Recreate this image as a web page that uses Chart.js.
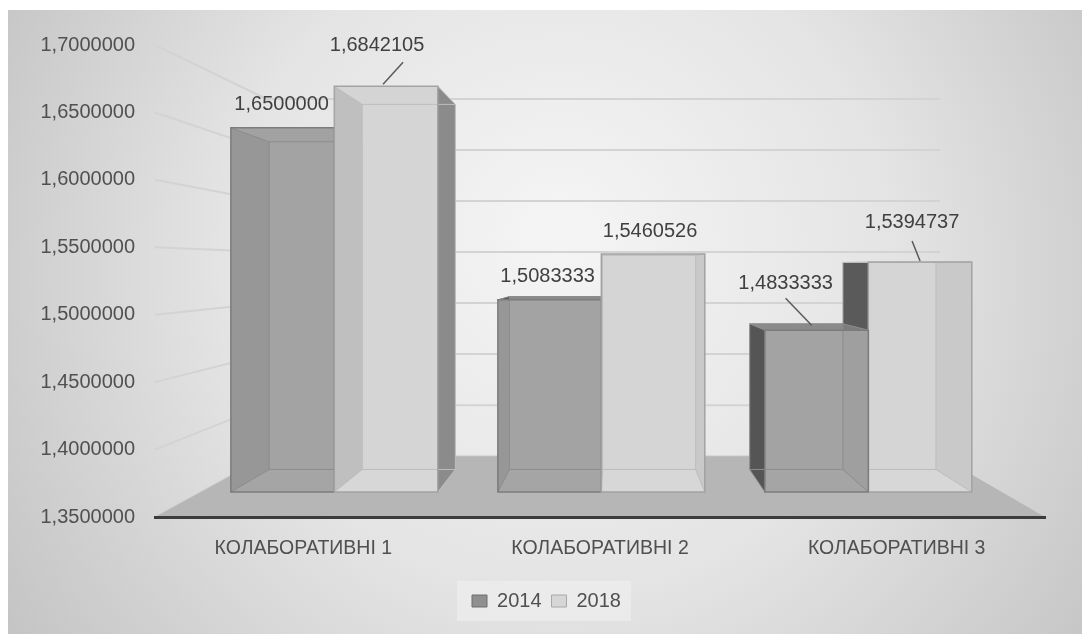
<!DOCTYPE html>
<html lang="uk">
<head>
<meta charset="utf-8">
<title>Колаборативні 2014 / 2018</title>
<script src="https://cdn.jsdelivr.net/npm/chart.js@4.4.1/dist/chart.umd.min.js"></script>
<style>
    html, body { margin: 0; padding: 0; background: #ffffff; }
    #chart { display: block; }
</style>
</head>
<body>
<canvas id="chart" width="1082" height="634"></canvas>
<script>
// chart values
const categories = ['КОЛАБОРАТИВНІ 1', 'КОЛАБОРАТИВНІ 2', 'КОЛАБОРАТИВНІ 3'];
const years = ['2014', '2018'];
const values2014 = [1.6500000, 1.5083333, 1.4833333];
const values2018 = [1.6842105, 1.5460526, 1.5394737];
const yMin = 1.35;
const yMax = 1.70;
const yStep = 0.05;

// perspective: depth factors toward the vanishing point
const FRONT = 0.9;   // front face of a column
const BACK = 0.81;   // back face of a column
const WALL = 0.757;  // back wall and far edge of the floor

// data label placement, relative to the top centre of each front face
const labelShift = [
    [[-1, -23], [-2, -23], [-31, -47]],
    [[-9, -41], [-3, -23], [-8, -40]]
];
const leaders = [
    [null, null, [-5, -5, -31, -32]],
    [[-3, -2, 17, -24], null, [0, -1, -8, -21]]
];

// shades for each series
const looks = [
    { front: '#a7a7a7', back: '#8f8f8f', left: '#555555', right: '#7c7c7c', top: '#8a8a8a', bottom: '#9a9a9a', edge: '#7c7c7c', inner: '#8c8c8c' },
    { front: '#d8d8d8', back: '#c9c9c9', left: '#5a5a5a', right: '#8b8b8b', top: '#c2c2c2', bottom: '#cfcfcf', edge: '#a3a3a3', inner: '#bdbdbd' }
];

const fmt = v => v.toFixed(7).replace('.', ',');

function vanish(area) {
    return { x: area.left + area.width * 0.515, y: area.top + area.height * 0.47 };
}

function project(vp, x, y, s) {
    return [vp.x + (x - vp.x) * s, vp.y + (y - vp.y) * s];
}

function poly(ctx, pts, fill) {
    ctx.beginPath();
    ctx.moveTo(pts[0][0], pts[0][1]);
    for (let i = 1; i < pts.length; i++) ctx.lineTo(pts[i][0], pts[i][1]);
    ctx.closePath();
    ctx.fillStyle = fill;
    ctx.fill();
}

// background panel, walls with gridlines and the floor
const scenery = {
    id: 'scenery',
    afterLayout(chart) {
        // legend sits a little right of the canvas centre
        if (chart.legend) {
            chart.legend.left += 20;
            chart.legend.right += 20;
        }
    },
    beforeDraw(chart) {
        const ctx = chart.ctx;
        const area = chart.chartArea;
        const vp = vanish(area);
        ctx.save();
        ctx.fillStyle = '#ffffff';
        ctx.fillRect(0, 0, chart.width, chart.height);
        const g = ctx.createRadialGradient(560, 230, 20, 560, 300, 720);
        g.addColorStop(0, '#f4f4f4');
        g.addColorStop(0.45, '#e4e4e4');
        g.addColorStop(1, '#bdbdbd');
        ctx.fillStyle = g;
        ctx.fillRect(8, 10, chart.width - 8, chart.height - 10);

        // gridlines: along the left wall, then across the back wall
        const yScale = chart.scales.y;
        const wallRight = project(vp, area.right, area.top, WALL)[0];
        ctx.strokeStyle = '#d3d3d3';
        ctx.lineWidth = 2;
        yScale.ticks.forEach(t => {
            const py = yScale.getPixelForValue(t.value);
            const w = project(vp, area.left, py, WALL);
            ctx.beginPath();
            ctx.moveTo(area.left, py);
            ctx.lineTo(w[0], w[1]);
            ctx.lineTo(wallRight, w[1]);
            ctx.stroke();
        });

        // floor
        const fl = project(vp, area.left, area.bottom, WALL);
        const fr = project(vp, area.right, area.bottom, WALL);
        poly(ctx, [[area.left, area.bottom], fl, fr, [area.right, area.bottom]], '#b6b6b6');

        // legend plate
        const lg = chart.legend;
        if (lg && lg.legendHitBoxes && lg.legendHitBoxes.length) {
            const hb = lg.legendHitBoxes;
            const x0 = Math.min(...hb.map(b => b.left)) - 15;
            const x1 = Math.max(...hb.map(b => b.left + b.width)) + 10;
            const y0 = hb[0].top - 10;
            ctx.fillStyle = 'rgba(240,240,240,0.6)';
            ctx.fillRect(x0, y0, x1 - x0, hb[0].height + 20);
        }
        ctx.restore();
    }
};

// columns drawn as see-through boxes, plus value labels
const columns = {
    id: 'columns',
    beforeDatasetsDraw(chart) {
        const ctx = chart.ctx;
        const area = chart.chartArea;
        const vp = vanish(area);
        const bars = [];
        chart.data.datasets.forEach((ds, di) => {
            chart.getDatasetMeta(di).data.forEach((el, i) => {
                const p = el.getProps(['x', 'y', 'base', 'width'], true);
                bars.push({ di, i, p, value: ds.data[i] });
            });
        });
        bars.sort((a, b) => Math.abs(b.p.x - vp.x) - Math.abs(a.p.x - vp.x));

        ctx.save();
        bars.forEach(({ di, p }) => {
            const lk = looks[di];
            const x1 = p.x - p.width / 2, x2 = p.x + p.width / 2;
            const bottom = Math.min(p.base, area.bottom);
            const corners = [[x1, p.y], [x2, p.y], [x2, bottom], [x1, bottom]];
            const f = corners.map(c => project(vp, c[0], c[1], FRONT));
            const b = corners.map(c => project(vp, c[0], c[1], BACK));
            poly(ctx, b, lk.back);
            poly(ctx, [f[3], f[2], b[2], b[3]], lk.bottom);
            poly(ctx, [f[0], f[1], b[1], b[0]], lk.top);
            poly(ctx, [f[0], b[0], b[3], f[3]], lk.left);
            poly(ctx, [f[1], b[1], b[2], f[2]], lk.right);
            ctx.globalAlpha = 0.8;
            poly(ctx, f, lk.front);
            ctx.globalAlpha = 1;

            // hidden edges, faint
            ctx.strokeStyle = lk.inner;
            ctx.lineWidth = 1;
            ctx.beginPath();
            ctx.moveTo(b[0][0], b[0][1]);
            b.forEach(c => ctx.lineTo(c[0], c[1]));
            ctx.closePath();
            for (let k = 0; k < 4; k++) {
                ctx.moveTo(f[k][0], f[k][1]);
                ctx.lineTo(b[k][0], b[k][1]);
            }
            ctx.stroke();

            // outer edges
            ctx.strokeStyle = lk.edge;
            ctx.lineWidth = 1.5;
            ctx.beginPath();
            ctx.moveTo(f[0][0], f[0][1]);
            f.forEach(c => ctx.lineTo(c[0], c[1]));
            ctx.closePath();
            ctx.stroke();
        });

        // value labels
        ctx.font = '20px "Liberation Sans", Arial, sans-serif';
        ctx.fillStyle = '#404040';
        ctx.textAlign = 'center';
        ctx.textBaseline = 'middle';
        ctx.strokeStyle = '#5a5a5a';
        ctx.lineWidth = 1.5;
        bars.forEach(({ di, i, p, value }) => {
            const t = project(vp, p.x, p.y, FRONT);
            const [dx, dy] = labelShift[di][i];
            ctx.fillText(fmt(value), t[0] + dx, t[1] + dy);
            const ld = leaders[di][i];
            if (ld) {
                ctx.beginPath();
                ctx.moveTo(t[0] + ld[0], t[1] + ld[1]);
                ctx.lineTo(t[0] + ld[2], t[1] + ld[3]);
                ctx.stroke();
            }
        });
        ctx.restore();
        return false;
    }
};

new Chart(document.getElementById('chart'), {
    type: 'bar',
    data: {
        labels: categories,
        datasets: [
            { label: years[0], data: values2014, base: yMin, backgroundColor: '#8f8f8f', borderColor: '#6f6f6f', borderWidth: 1 },
            { label: years[1], data: values2018, base: yMin, backgroundColor: '#d6d6d6', borderColor: '#a8a8a8', borderWidth: 1 }
        ]
    },
    options: {
        responsive: false,
        animation: false,
        layout: { padding: { left: 8, right: 37, top: 45, bottom: 13 } },
        datasets: { bar: { categoryPercentage: 0.775, barPercentage: 1 } },
        scales: {
            x: {
                grid: { display: false, drawTicks: false },
                border: { display: true, color: '#3c3c3c', width: 3 },
                ticks: {
                    color: '#505050',
                    padding: 20,
                    font: { family: '"Liberation Sans", Arial, sans-serif', size: 19.5 }
                },
                afterFit(scale) { scale.height = 64; }
            },
            y: {
                min: yMin,
                max: yMax,
                grid: { display: false, drawTicks: false },
                border: { display: false },
                ticks: {
                    stepSize: yStep,
                    color: '#505050',
                    padding: 20,
                    font: { family: '"Liberation Sans", Arial, sans-serif', size: 20 },
                    callback: v => fmt(v)
                },
                afterFit(scale) { scale.width = 147; }
            }
        },
        plugins: {
            legend: {
                position: 'bottom',
                labels: {
                    boxWidth: 15,
                    boxHeight: 12,
                    padding: 10,
                    color: '#505050',
                    font: { family: '"Liberation Sans", Arial, sans-serif', size: 20 }
                }
            },
            tooltip: { enabled: false }
        }
    },
    plugins: [scenery, columns]
});
</script>
</body>
</html>
